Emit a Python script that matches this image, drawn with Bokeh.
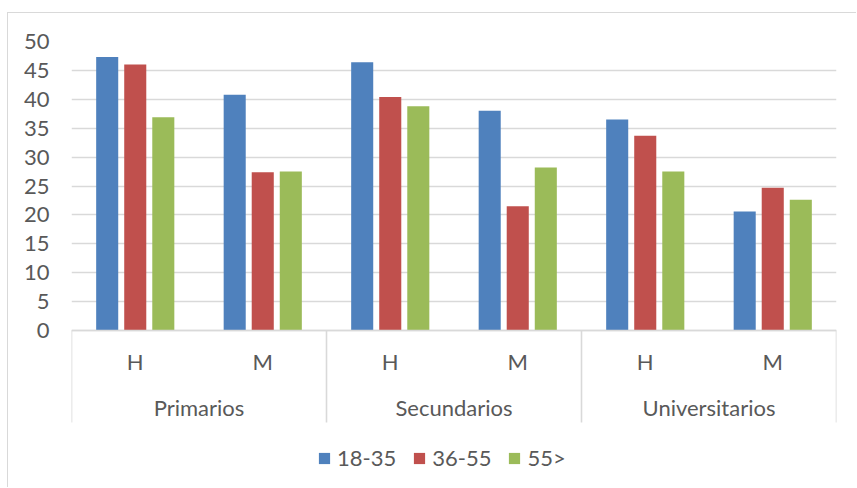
from bokeh.plotting import figure
from bokeh.models import (ColumnDataSource, FactorRange, Range1d, FixedTicker, Span,
                          Legend, LegendItem)
from bokeh.transform import dodge
from bokeh.core.properties import value
from bokeh.embed import file_html
from bokeh.resources import INLINE

# ---- data ----
groups = ["Primarios", "Secundarios", "Universitarios"]
subs = ["H", "M"]
series = ["18-35", "36-55", "55>"]
v18_35 = [47.3, 40.8, 46.4, 38.0, 36.5, 20.6]
v36_55 = [46.0, 27.4, 40.4, 21.5, 33.7, 24.7]
v55 = [36.9, 27.5, 38.8, 28.2, 27.5, 22.6]
yticks = [0, 5, 10, 15, 20, 25, 30, 35, 40, 45, 50]

colors = ["#4F81BD", "#C0504D", "#9BBB59"]
text_color = "#595959"
grid_color = "#D9D9D9"
FONT = "Lato"
FS = "22px"

factors = [(g, s) for g in groups for s in subs]
src = ColumnDataSource(dict(x=factors, a=v18_35, b=v36_55, c=v55))

px_per_unit = 289 / 50.0
y_bottom = -(488 - 330) / px_per_unit
sub_label_y = -(361 - 330) / px_per_unit
group_label_y = -(407 - 330) / px_per_unit
sep_bottom = -(422 - 330) / px_per_unit

p = figure(width=849, height=475, output_backend="svg", toolbar_location=None,
           x_range=FactorRange(*factors, group_padding=0, range_padding=0),
           y_range=Range1d(y_bottom, 50), x_axis_location=None,
           min_border_left=63, min_border_right=21, min_border_top=28,
           min_border_bottom=0)
p.margin = (12, 0, 0, 7)
p.styles = {"border-left": "1px solid #D9D9D9", "border-top": "1px solid #D9D9D9"}
p.outline_line_color = None
p.xgrid.grid_line_color = None
p.ygrid.ticker = FixedTicker(ticks=yticks)
p.ygrid.grid_line_color = grid_color
p.ygrid.grid_line_width = 1.6

ax = p.yaxis[0]
ax.ticker = FixedTicker(ticks=yticks)
ax.axis_line_color = None
ax.major_tick_line_color = None
ax.minor_tick_line_color = None
ax.major_tick_out = 0
ax.major_tick_in = 0
ax.major_label_standoff = 22
ax.major_label_text_font = FONT
ax.major_label_text_font_size = FS
ax.major_label_text_color = text_color

offs = [-0.22, 0.0, 0.22]
renderers = []
for col, off, c in zip(["a", "b", "c"], offs, colors):
    r = p.vbar(x=dodge("x", off, range=p.x_range), top=col, width=0.173, source=src,
               fill_color=c, line_color=None)
    renderers.append(r)

# category axis: line, separators, labels
p.add_layout(Span(location=0, dimension="width", line_color=grid_color, line_width=1.6))
sep_x = [(g, subs[0], -0.5) for g in groups] + [(groups[-1], subs[-1], 0.5)]
p.segment(x0=sep_x, x1=sep_x, y0=[0] * len(sep_x), y1=[sep_bottom] * len(sep_x),
          line_color=grid_color, line_width=1.6)
p.text(x=factors, y=[sub_label_y] * len(factors), text=[f[1] for f in factors],
       text_font=value(FONT), text_font_size=FS, text_color=text_color,
       text_align="center", text_baseline="middle")
p.text(x=groups, y=[group_label_y] * len(groups), text=groups,
       text_font=value(FONT), text_font_size=FS, text_color=text_color,
       text_align="center", text_baseline="middle")

legend = Legend(items=[LegendItem(label=s, renderers=[r]) for s, r in zip(series, renderers)],
                orientation="horizontal", location=(246, 17))
legend.glyph_width = 14
legend.glyph_height = 14
legend.label_standoff = 6
legend.spacing = 16
legend.padding = 0
legend.margin = 0
legend.border_line_color = None
legend.background_fill_alpha = 0
legend.label_text_font = FONT
legend.label_text_font_size = FS
legend.label_text_color = text_color
p.add_layout(legend)

open("out.html", "w").write(file_html(p, INLINE))
